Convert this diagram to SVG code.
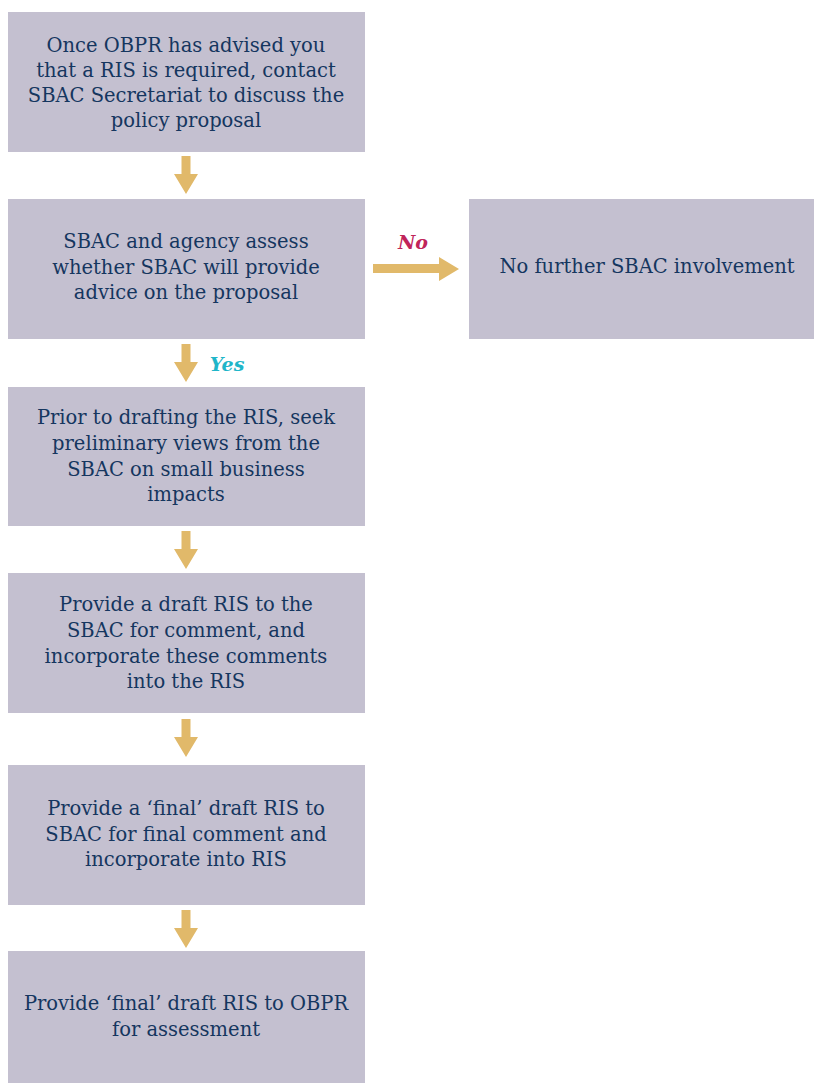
<svg xmlns="http://www.w3.org/2000/svg" width="814" height="1083" viewBox="0 0 814 1083">
<defs>
<style>
.box{fill:#c4c0d0}
.t{font-family:"DejaVu Serif","Liberation Serif",serif;font-size:19.5px;fill:#15365f;text-anchor:middle}
.arr{fill:#e1b96a}
.lab{font-family:"DejaVu Serif","Liberation Serif",serif;font-size:19px;font-weight:bold;font-style:italic}
</style>
<path id="down" class="arr" d="M-4.5,0 H4.5 V18 H12 L0,38 L-12,18 H-4.5 Z"/>
</defs>
<rect width="814" height="1083" fill="#ffffff"/>
<g id="n1"><rect class="box" x="8" y="12" width="357" height="140"/>
<text class="t"><tspan x="186" y="52">Once OBPR has advised you</tspan><tspan x="186" y="77">that a RIS is required, contact</tspan><tspan x="186" y="102">SBAC Secretariat to discuss the</tspan><tspan x="186" y="127">policy proposal</tspan></text></g>
<g id="n2"><rect class="box" x="8" y="199" width="357" height="140"/>
<text class="t"><tspan x="186" y="248">SBAC and agency assess</tspan><tspan x="186" y="274">whether SBAC will provide</tspan><tspan x="186" y="299">advice on the proposal</tspan></text></g>
<g id="n7"><rect class="box" x="469" y="199" width="345" height="140"/>
<text class="t"><tspan x="647" y="273">No further SBAC involvement</tspan></text></g>
<g id="n3"><rect class="box" x="8" y="387" width="357" height="139"/>
<text class="t"><tspan x="186" y="424">Prior to drafting the RIS, seek</tspan><tspan x="186" y="450">preliminary views from the</tspan><tspan x="186" y="476">SBAC on small business</tspan><tspan x="186" y="501">impacts</tspan></text></g>
<g id="n4"><rect class="box" x="8" y="573" width="357" height="140"/>
<text class="t"><tspan x="186" y="611">Provide a draft RIS to the</tspan><tspan x="186" y="637">SBAC for comment, and</tspan><tspan x="186" y="663">incorporate these comments</tspan><tspan x="186" y="688">into the RIS</tspan></text></g>
<g id="n5"><rect class="box" x="8" y="765" width="357" height="140"/>
<text class="t"><tspan x="186" y="815">Provide a ‘final’ draft RIS to</tspan><tspan x="186" y="841">SBAC for final comment and</tspan><tspan x="186" y="866">incorporate into RIS</tspan></text></g>
<g id="n6"><rect class="box" x="8" y="951" width="357" height="132"/>
<text class="t"><tspan x="186" y="1010">Provide ‘final’ draft RIS to OBPR</tspan><tspan x="186" y="1036">for assessment</tspan></text></g>
<g id="connectors">
<use href="#down" x="186" y="156"/>
<use href="#down" x="186" y="344"/>
<use href="#down" x="186" y="531"/>
<use href="#down" x="186" y="719"/>
<use href="#down" x="186" y="910"/>
<path class="arr" d="M373,264 H439 V257 L459,269 L439,281 V273 H373 Z"/>
<text class="lab" x="413" y="249" text-anchor="middle" fill="#c0245a">No</text>
<text class="lab" x="227" y="371" text-anchor="middle" fill="#1fb6c9">Yes</text>
</g>
</svg>
